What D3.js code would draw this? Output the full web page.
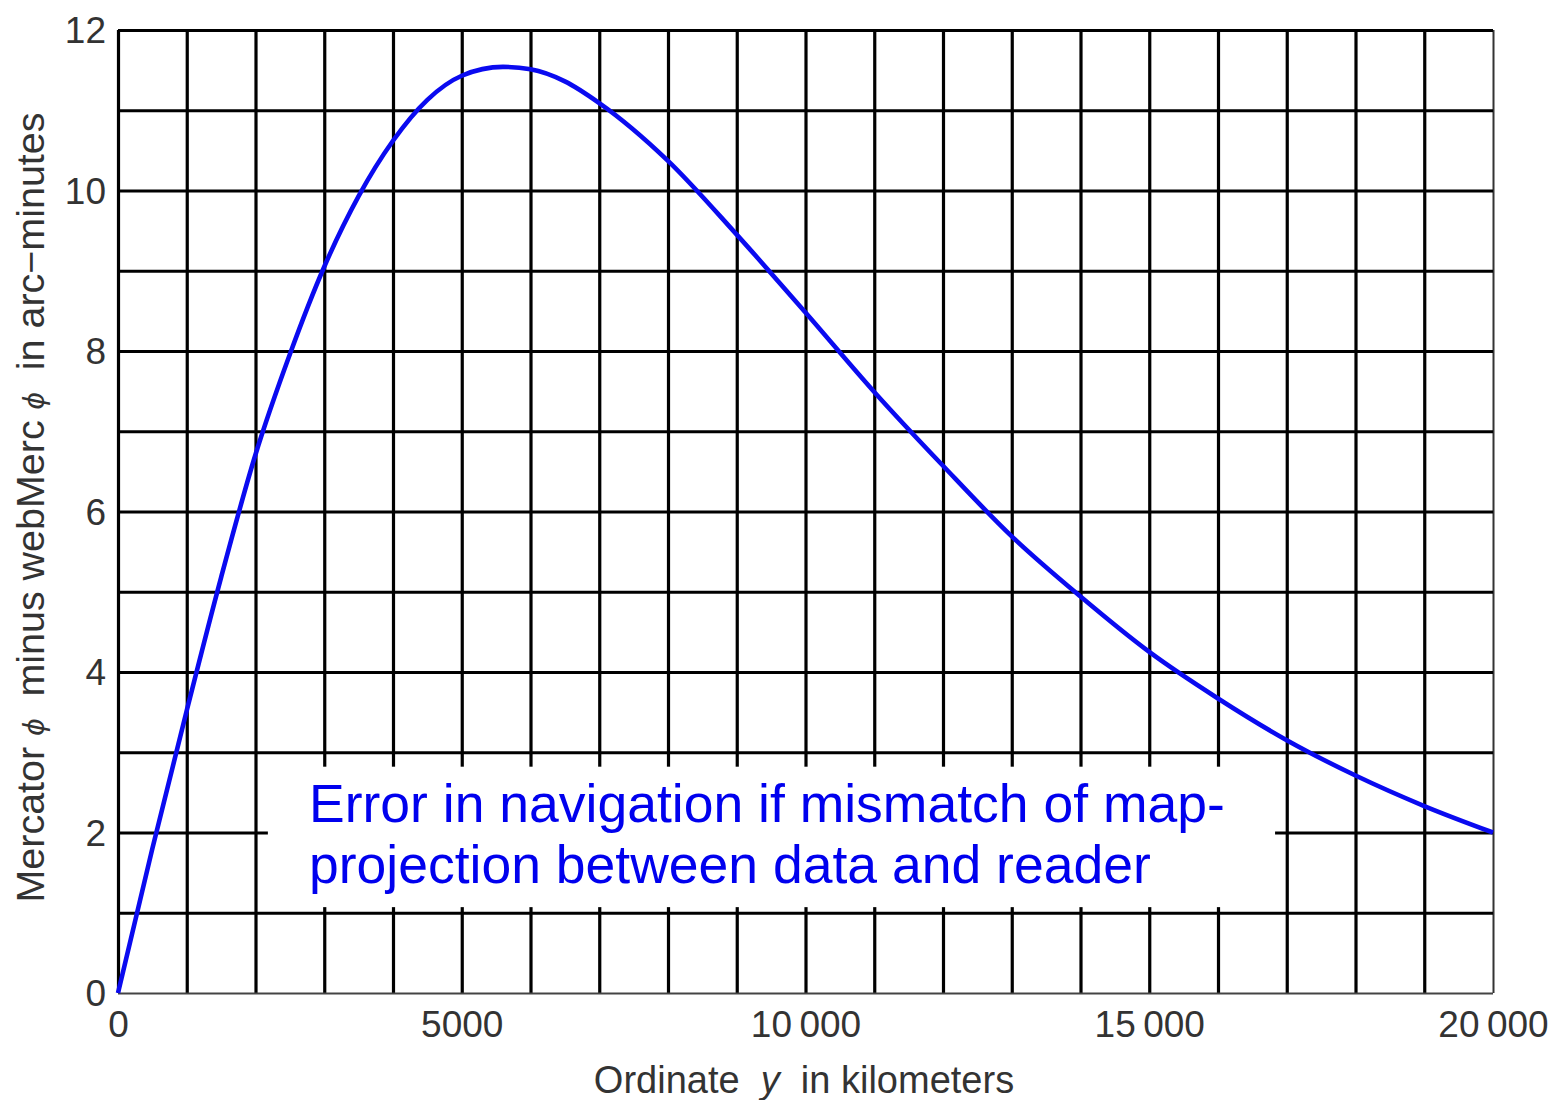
<!DOCTYPE html>
<html>
<head>
<meta charset="utf-8">
<script src="https://cdn.jsdelivr.net/npm/d3@7"></script>
<style>
  html, body { margin: 0; padding: 0; background: #fff; }
  svg { display: block; }
  text { font-family: "Liberation Sans", Arial, sans-serif; }
</style>
</head>
<body>
<svg id="chart" width="1555" height="1100"></svg>
<script>
// ---- data ----
const ordinateKm = [0, 500, 1000, 1500, 2000, 2500, 3000, 3500, 4000, 4500, 5000, 5600, 6000, 6500, 7000, 8000, 9000, 10000, 11000, 12000, 13000, 14000, 15000, 16000, 17000, 18000, 19000, 20000];
const diffArcMin = [0, 1.8, 3.52, 5.18, 6.71, 7.96, 9.05, 9.93, 10.62, 11.13, 11.43, 11.54, 11.51, 11.36, 11.09, 10.37, 9.45, 8.48, 7.49, 6.57, 5.69, 4.94, 4.25, 3.67, 3.15, 2.71, 2.33, 2.0];

const xGrid = [0, 1000, 2000, 3000, 4000, 5000, 6000, 7000, 8000, 9000, 10000, 11000, 12000, 13000, 14000, 15000, 16000, 17000, 18000, 19000, 20000];
const yGrid = [0, 1, 2, 3, 4, 5, 6, 7, 8, 9, 10, 11, 12];
const xTickValues = [0, 5000, 10000, 15000, 20000];
const xTickLabels = ["0", "5000", "10\u2009000", "15\u2009000", "20\u2009000"];
const yTickValues = [0, 2, 4, 6, 8, 10, 12];
const yTickLabels = ["0", "2", "4", "6", "8", "10", "12"];
const annotationLines = ["Error in navigation if mismatch of map-", "projection between data and reader"];

// ---- layout ----
const svg = d3.select("#chart");
const pLeft = 118, pRight = 1493, pTop = 30, pBottom = 993;
const x = d3.scaleLinear().domain([0, 20000]).range([pLeft, pRight]);
const y = d3.scaleLinear().domain([0, 12]).range([pBottom, pTop]);

// grid lines via axes
const gx = svg.append("g").attr("transform", `translate(0,${pBottom})`)
  .call(d3.axisBottom(x).tickValues(xGrid).tickSize(-(pBottom - pTop)).tickFormat(""));
const gy = svg.append("g").attr("transform", `translate(${pLeft},0)`)
  .call(d3.axisLeft(y).tickValues(yGrid).tickSize(-(pRight - pLeft)).tickFormat(""));
[gx, gy].forEach(g => {
  g.select(".domain").remove();
  g.selectAll(".tick line").attr("stroke", "#000").attr("stroke-width", 3.2);
});
// thinner right and bottom frame
gx.selectAll(".tick").filter(d => d === 20000).select("line").attr("stroke", "#333").attr("stroke-width", 2);
gy.selectAll(".tick").filter(d => d === 0).select("line").attr("stroke", "#444").attr("stroke-width", 2);

// white annotation box
svg.append("rect")
  .attr("x", x(2180)).attr("y", y(2.82))
  .attr("width", x(16830) - x(2180)).attr("height", y(1.07) - y(2.82))
  .attr("fill", "#fff");

// curve
const line = d3.line()
  .x((d, i) => x(ordinateKm[i]))
  .y(d => y(d))
  .curve(d3.curveMonotoneX);
svg.append("path")
  .attr("d", line(diffArcMin))
  .attr("fill", "none")
  .attr("stroke", "#0a0af0")
  .attr("stroke-width", 4.6)
  .attr("stroke-linejoin", "round");

// tick labels
const xl = svg.append("g").attr("transform", `translate(0,${pBottom + 18})`)
  .call(d3.axisBottom(x).tickValues(xTickValues).tickSize(0).tickPadding(0)
    .tickFormat((d, i) => xTickLabels[i]));
xl.select(".domain").remove();
xl.selectAll("text").attr("font-size", 37).attr("fill", "#333")
  .attr("font-family", "Liberation Sans, Arial, sans-serif").attr("dy", "0.71em");

const yl = svg.append("g").attr("transform", `translate(${pLeft - 12},0)`)
  .call(d3.axisLeft(y).tickValues(yTickValues).tickSize(0).tickPadding(0)
    .tickFormat((d, i) => yTickLabels[i]));
yl.select(".domain").remove();
yl.selectAll("text").attr("font-size", 37).attr("fill", "#333")
  .attr("font-family", "Liberation Sans, Arial, sans-serif").attr("dy", "0.35em");

// axis titles
const xt = svg.append("text")
  .attr("x", 804).attr("y", 1093)
  .attr("text-anchor", "middle").attr("font-size", 38).attr("fill", "#333")
  .style("white-space", "pre");
xt.append("tspan").text("Ordinate  ");
xt.append("tspan").attr("font-style", "italic").text("y");
xt.append("tspan").text("  in kilometers");

const yt = svg.append("text")
  .attr("transform", `translate(44,${(pTop + pBottom) / 2 - 4}) rotate(-90)`)
  .attr("text-anchor", "middle").attr("font-size", 38).attr("fill", "#333")
  .attr("textLength", 790).attr("lengthAdjust", "spacingAndGlyphs")
  .style("white-space", "pre");
yt.append("tspan").text("Mercator ");
yt.append("tspan").attr("font-style", "italic").attr("font-size", 30).text("\u03D5");
yt.append("tspan").text("  minus webMerc ");
yt.append("tspan").attr("font-style", "italic").attr("font-size", 30).text("\u03D5");
yt.append("tspan").text("  in arc\u2212minutes");

// annotation
const ann = svg.append("text").attr("font-size", 53.5).attr("fill", "#0000ee");
annotationLines.forEach((t, i) => {
  ann.append("tspan").attr("x", 309).attr("y", 822 + i * 61).text(t);
});
</script>
</body>
</html>
